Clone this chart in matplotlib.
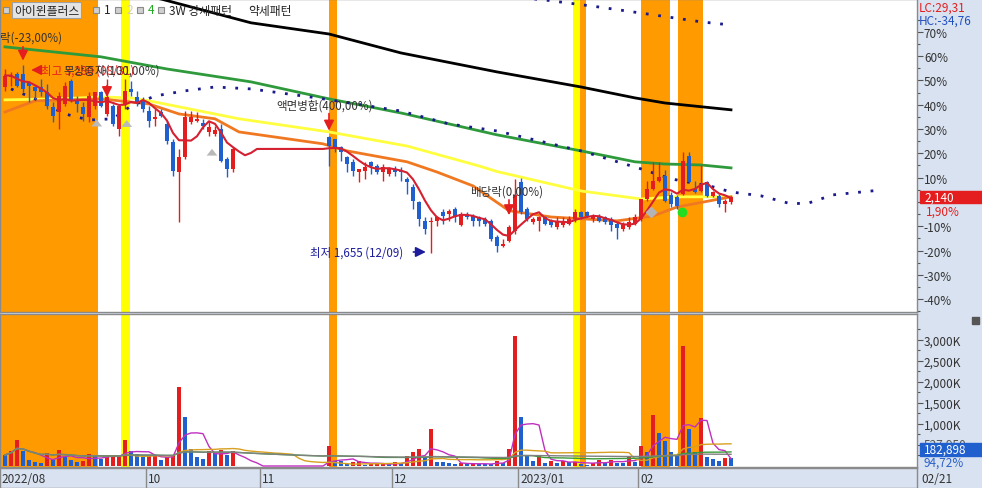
import numpy as np
import pandas as pd
import matplotlib
matplotlib.use("Agg")
import matplotlib.pyplot as plt
import matplotlib.transforms as mtrans
from matplotlib.patches import Rectangle

plt.rcParams['font.family'] = ['Noto Sans CJK KR', 'DejaVu Sans']

# 종목 / 기준가 (0% 기준)
stock_name = "아이윈플러스"
base_price = 2100

# 거래일 슬롯 (39~53 은 액면병합 거래정지 구간이라 캔들 없음)
slots = list(range(0, 39)) + list(range(54, 122))

# 기준가 대비 등락률(%) : 시가 / 고가 / 저가 / 종가
opens = [47.2, 51.3, 52.7, 52.7, 49.3, 47.2, 47.2, 45.1, 39.0, 36.9,
         40.3, 49.9, 41.7, 39.0, 34.8, 39.6, 45.1, 36.2, 39.6, 30.0,
         40.3, 46.5, 43.1, 41.7, 37.6, 34.2, 36.9, 32.1, 24.6, 12.2,
         18.4, 32.8, 33.5, 32.5, 28.7, 28.0, 30.0, 17.7, 13.6,
         26.6, 25.8, 22.5, 18.4, 16.3, 12.2, 12.9, 16.3, 14.9, 12.2,
         11.5, 13.6, 12.9, 9.5, 6.0, -0.1, -7.7, -8.4, -7.7, -4.3,
         -4.9, -2.9, -9.5, -4.9, -5.6, -6.3, -7.0, -7.7, -14.5, -18.0,
         -15.9, -12.0, 8.0, -3.0, -8.4, -7.7, -6.3, -7.7, -10.4, -9.7,
         -9.1, -7.0, -4.3, -4.3, -7.0, -5.6, -6.3, -7.0, -9.1, -11.1,
         -10.4, -9.1, -7.0, 1.2, 5.3, 8.8, 10.5, 3.0, 2.0, 3.3,
         18.9, 5.3, 4.5, 8.2, 2.5, 2.5, -0.8, 0.0]
highs = [54.7, 53.4, 53.4, 56.19, 49.9, 47.9, 50.6, 48.6, 41.0, 45.1,
         49.3, 50.6, 43.7, 41.0, 45.1, 45.1, 45.8, 50.6, 40.3, 40.3,
         50.6, 49.9, 45.8, 43.1, 39.6, 38.3, 38.3, 33.5, 25.9, 21.8,
         37.6, 37.6, 36.9, 34.2, 33.5, 31.4, 32.1, 18.4, 22.5,
         27.0, 26.0, 23.2, 19.0, 17.7, 13.6, 16.3, 17.0, 15.6, 15.6,
         14.3, 14.9, 14.3, 10.2, 7.4, 0.5, -6.3, -6.3, -5.6, -2.9,
         -2.9, -2.2, -4.3, -4.3, -4.9, -5.6, -6.3, -7.0, -13.5, -15.2,
         -9.7, 9.5, 10.0, -2.0, -6.3, -5.6, -5.6, -7.0, -6.3, -6.3,
         -5.6, -2.9, -3.6, -3.6, -4.9, -4.9, -5.6, -6.3, -8.4, -8.4,
         -6.3, -4.9, -6.3, 8.8, 16.3, 16.3, 13.0, 4.0, 3.0, 20.7,
         20.6, 8.5, 15.0, 8.8, 4.5, 3.3, 1.2, 2.5]
lows = [45.8, 47.9, 47.2, 45.1, 41.0, 42.4, 43.7, 38.3, 32.8, 30.0,
        39.6, 41.0, 36.9, 33.5, 32.8, 38.3, 39.0, 35.5, 31.4, 27.3,
        38.3, 43.7, 39.6, 36.9, 30.7, 31.4, 34.8, 23.9, 10.8, -8.4,
        17.7, 32.1, 32.8, 30.0, 27.3, 27.3, 16.3, 10.2, 12.2,
        14.9, 20.4, 17.0, 12.2, 10.8, 8.1, 9.5, 11.5, 11.5, 8.8,
        10.8, 10.8, 8.8, 3.3, -2.9, -9.8, -13.2, -21.19, -9.8, -9.1,
        -7.7, -8.4, -9.8, -7.0, -9.8, -9.8, -9.8, -16.0, -20.5, -18.7,
        -16.6, -13.0, -5.0, -8.0, -9.1, -11.8, -9.7, -10.4, -11.1, -10.4,
        -9.7, -8.4, -7.0, -6.3, -8.4, -8.4, -9.1, -11.8, -15.2, -11.8,
        -11.1, -9.7, -7.7, 0.5, 4.7, 8.0, 0.0, -2.0, -3.0, 3.0,
        8.0, 3.5, 4.0, 1.9, 1.9, -2.2, -4.0, -1.0]
closes = [52.0, 52.0, 47.9, 46.5, 47.9, 45.8, 45.1, 39.6, 35.5, 43.7,
          47.9, 41.7, 40.3, 36.2, 43.7, 45.1, 39.6, 43.1, 32.1, 39.6,
          45.8, 45.1, 41.0, 38.3, 33.5, 34.8, 35.5, 25.2, 12.9, 18.4,
          34.8, 34.8, 34.2, 31.4, 30.7, 29.5, 17.0, 13.6, 21.8,
          23.2, 22.5, 20.4, 15.6, 12.9, 13.6, 14.3, 14.9, 12.2, 14.3,
          13.6, 12.2, 12.2, 8.1, 0.5, -7.0, -11.2, -7.7, -6.3, -5.6,
          -3.6, -6.3, -4.9, -6.3, -7.7, -7.7, -9.1, -15.2, -18.0, -17.3,
          -10.4, 3.0, -4.0, -7.0, -7.0, -6.3, -9.1, -9.7, -8.4, -7.7,
          -7.0, -4.3, -6.3, -5.6, -5.6, -7.7, -8.4, -9.5, -10.8, -9.7,
          -8.4, -6.3, 1.2, 5.3, 8.8, 10.2, 0.5, -1.0, -1.5, 17.0,
          8.2, 4.1, 7.4, 2.5, 4.1, -0.8, 0.4, 1.9]

# 거래량 (천주)
volumes = [262, 365, 627, 365, 143, 87, 71, 310, 143, 389,
           222, 143, 103, 127, 278, 270, 167, 222, 230, 240,
           627, 349, 278, 206, 230, 240, 151, 206, 262, 1888,
           1167, 405, 222, 167, 365, 302, 389, 262, 365,
           468, 127, 111, 48, 87, 127, 35, 40, 45, 50,
           40, 90, 60, 246, 325, 405, 206, 881, 103, 87,
           60, 45, 70, 40, 60, 50, 45, 40, 127, 80,
           405, 3103, 1159, 246, 127, 246, 70, 127, 64, 111,
           87, 95, 48, 30, 75, 150, 75, 150, 75, 65,
           246, 103, 484, 341, 1214, 786, 595, 325, 250, 2865,
           881, 325, 1135, 206, 160, 127, 193.093, 182.898]

# 이동평균선 (화면에서 읽은 값: 슬롯, %)
ma_black_x = [20, 26, 41, 54, 66, 82, 96, 105, 110, 121]
ma_black_y = [84.4, 83.5, 73.7, 69.1, 61.3, 53.5, 47.3, 42.8, 40.7, 37.9]
ma_green_x = [0, 16, 27, 41, 54, 66, 74, 82, 96, 105, 110, 116, 121]
ma_green_y = [63.8, 59.7, 54.7, 49.4, 42.4, 36.6, 32.1, 27.6, 21.0, 16.5, 15.6, 15.2, 14.0]
ma_yellow_x = [0, 9, 16, 21, 24, 39, 54, 67, 79, 82, 96, 106, 112, 121]
ma_yellow_y = [42.0, 42.4, 43.2, 42.8, 41.6, 34.2, 28.8, 23.0, 14.8, 12.5, 4.5, 1.2, 2.1, 2.1]
ma_orange_x = [0, 5, 16, 24, 29, 35, 39, 53, 57, 67, 72, 78, 84, 91, 102, 108, 112, 121]
ma_orange_y = [37.0, 41.6, 42.4, 40.3, 36.2, 34.2, 28.8, 23.9, 21.0, 16.5, 12.3, 6.6,
               -3.6, -6.2, -7.8, -5.8, -2.1, 2.1]
span_low_x = [1, 5, 10, 14, 18, 21, 25, 30, 35, 41, 52, 66, 74, 82, 96, 106, 111,
              118, 121, 126, 131, 134, 138, 146]
span_low_y = [46.5, 42.4, 36.2, 33.7, 34.2, 39.5, 43.6, 45.7, 47.3, 46.5, 42.8, 37.4,
              32.1, 29.2, 21.0, 13.6, 9.5, 6.2, 4.1, 2.5, -0.8, -0.4, 2.9, 4.9]
span_high_x = [86, 90, 99, 108, 116, 121]
span_high_y = [84.0, 83.1, 80.2, 77.0, 74.1, 72.8]

# 신호 구간 (슬롯 범위)
orange_spans = [(-0.83, 15.5), (54.0, 55.3), (95.8, 96.8), (106.0, 110.8), (112.2, 116.3)]
yellow_spans = [(19.3, 20.8), (94.7, 95.8)]

# 월 구분
month_pos = [23.5, 42.5, 64.5, 85.5, 105.5]
month_labels = ["10", "11", "12", "2023/01", "02"]

RED = '#e41e1e'
BLUE = '#1f5fce'
AXBG = '#d9e2f0'
W, H = 982, 489


def box(x0, y0, x1, y1):
    return [x0 / W, 1 - y1 / H, (x1 - x0) / W, (y1 - y0) / H]


fig = plt.figure(figsize=(9.82, 4.89), dpi=100)
fig.patch.set_facecolor(AXBG)
ax = fig.add_axes(box(0, 0, 917, 313))
axv = fig.add_axes(box(0, 315, 917, 468), sharex=ax)
axd = fig.add_axes(box(0, 469, 917, 489), sharex=ax)

for a in (ax, axv, axd):
    for s in a.spines.values():
        s.set_color('#8a8a8a')
        s.set_linewidth(1)
axd.set_facecolor(AXBG)

ax.set_xlim(-0.83, 152)
ax.set_ylim(-45.3, 83.5)
axv.set_ylim(-24, 3619)
axd.set_ylim(0, 1)

# 신호 구간 음영
for a in (ax, axv):
    for s0, s1 in orange_spans:
        a.axvspan(s0, s1, color='#ff9b00', lw=0, zorder=0)
    for s0, s1 in yellow_spans:
        a.axvspan(s0, s1, color='#ffff00', lw=0, zorder=0)

# 가격 시리즈 (거래정지일은 직전 종가 유지)
full = pd.Series(np.nan, index=range(122))
full[slots] = closes
ma5 = full.ffill().rolling(5, min_periods=1).mean()

ax.plot(ma_black_x, ma_black_y, color='black', lw=2, zorder=3)
ax.plot(ma_green_x, ma_green_y, color='#2e9a3c', lw=2, zorder=3)
ax.plot(ma_yellow_x, ma_yellow_y, color='#ffff40', lw=2, zorder=3)
ax.plot(ma_orange_x, ma_orange_y, color='#f07820', lw=2, zorder=3)
ax.plot(span_low_x, span_low_y, color='#1a1a8c', lw=2, ls=(0, (1, 3.5)), zorder=3)
ax.plot(span_high_x, span_high_y, color='#1a1a8c', lw=2, ls=(0, (1, 3.5)), zorder=3)

# 캔들
idx = np.array(slots)
o = np.array(opens); h = np.array(highs); l = np.array(lows); c = np.array(closes)
col = np.where(c >= o, RED, BLUE)
ax.vlines(idx, l, h, colors=col, lw=1, zorder=4)
ax.bar(idx, np.maximum(np.abs(c - o), 0.4), bottom=np.minimum(o, c), width=0.72,
       color=col, lw=0, zorder=5)
ax.plot(ma5.index, ma5.values, color='#d42030', lw=1.5, zorder=6)

# 이벤트 표시
red_arrow = dict(arrowstyle='-|>,head_width=0.3,head_length=0.6', color=RED, lw=1.2)
ax.annotate('', xy=(3, 57.0), xytext=(3, 65.0), arrowprops=red_arrow, zorder=7)
ax.annotate('', xy=(17, 42.0), xytext=(17, 49.0), arrowprops=red_arrow, zorder=7)
ax.annotate('', xy=(54, 28.2), xytext=(54, 37.5), arrowprops=red_arrow, zorder=7)
ax.annotate('', xy=(84, -6.6), xytext=(84, 2.0), arrowprops=red_arrow, zorder=7)
ax.annotate('', xy=(3.9, 54.3), xytext=(5.9, 54.3), arrowprops=red_arrow, zorder=7)
ax.annotate('', xy=(70.6, -20.6), xytext=(67.6, -20.6),
            arrowprops=dict(arrowstyle='-|>,head_width=0.3,head_length=0.6',
                            color='#1c1c9c', lw=1.2), zorder=7)

high_price = round(base_price * (1 + max(highs) / 100))
low_price = round(base_price * (1 + min(lows) / 100))
ax.text(-0.83, 67.9, "락(-23,00%)", fontsize=8.3, color='#333333', va='center', zorder=8)
ax.text(6.0, 54.3, f"최고 {high_price:,} (08/31)",
        fontsize=8.3, color=RED, va='center', zorder=8)
ax.text(9.7, 54.3, "무상증자(100,00%)", fontsize=8.3, color='#333333', va='center', zorder=8)
ax.text(45.3, 39.9, "액면병합(400,00%)", fontsize=8.3, color='#333333', va='center', zorder=8)
ax.text(77.5, 4.5, "배당락(0,00%)", fontsize=8.3, color='#333333', va='center', zorder=8)
ax.text(50.8, -20.6, f"최저 {low_price:,} (12/09)", fontsize=8.3, color='#1c1c9c',
        va='center', zorder=8)

gray_arrow = dict(arrowstyle='simple,head_width=1.1,head_length=0.7,tail_width=0.5',
                  color='#b9b9b9', lw=0, mutation_scale=7)
for s, yb, yt in [(15.3, 31.0, 35.0), (20.3, 30.8, 34.8), (34.5, 19.0, 23.0)]:
    ax.annotate('', xy=(s, yt), xytext=(s, yb), arrowprops=gray_arrow, zorder=7)
ax.plot([107.7], [-4.1], marker='D', ms=5, color='#b4b4b4', zorder=7)
ax.plot([112.8], [-4.1], marker='o', ms=6, color='#22dd22', zorder=7)

# 가격축 (0% 눈금 글자는 현재가 상자에 가려짐)
ax.yaxis.tick_right()
ax.set_yticks(range(-40, 71, 10))
ax.set_yticklabels([f"{t}%" if t != 0 else "" for t in range(-40, 71, 10)])
ax.set_yticks(range(-45, 80, 10), minor=True)
ax.tick_params(axis='y', which='major', direction='out', length=4, width=0.8,
               color='#555555', labelsize=8.5, labelcolor='#333333', pad=1)
ax.tick_params(axis='y', which='minor', direction='out', length=2, width=0.8, color='#555555')
ax.tick_params(axis='x', bottom=False, labelbottom=False)

# 거래량
vol_s = pd.Series(0.0, index=range(122))
vol_s[slots] = volumes
v = np.array(volumes)
vcol = [BLUE] + [RED if v[i] >= v[i - 1] else BLUE for i in range(1, len(v))]
axv.bar(idx, v, width=0.72, color=vcol, lw=0, zorder=3)
for win, colr in [(5, '#c030c0'), (20, '#d8a020'), (60, '#3a9a3a'), (120, '#808080')]:
    m = vol_s.rolling(win, min_periods=1).mean()
    axv.plot(m.index, m.values, color=colr, lw=1, zorder=4)
ma20_last = vol_s.rolling(20, min_periods=1).mean().iloc[-1]

axv.yaxis.tick_right()
axv.set_yticks([1000, 1500, 2000, 2500, 3000])
axv.set_yticklabels(["1,000K", "1,500K", "2,000K", "2,500K", "3,000K"])
axv.set_yticks(np.arange(250, 3500, 250), minor=True)
axv.tick_params(axis='y', which='major', direction='out', length=4, width=0.8,
                color='#555555', labelsize=8.5, labelcolor='#333333', pad=1)
axv.tick_params(axis='y', which='minor', direction='out', length=2, width=0.8, color='#555555')
axv.tick_params(axis='x', bottom=False, labelbottom=False)

# 날짜 영역
axd.set_yticks([])
axd.tick_params(axis='x', bottom=False, labelbottom=False)
axd.text(-0.5, 0.45, "2022/08", fontsize=8.5, color='#333333', va='center')
for p, lab in zip(month_pos, month_labels):
    axd.axvline(p, color='#8a8a8a', lw=1)
    axd.text(p + 0.35, 0.45, lab, fontsize=8.5, color='#333333', va='center')
fig.text(921 / W, 1 - 480 / H, "02/21", fontsize=8.5, color='#333333', va='center')

# 오른쪽 정보
last_pct = closes[-1]
last_price = round(base_price * (1 + last_pct / 100))
lc = (last_price / low_price - 1) * 100
hc = (last_price / high_price - 1) * 100
fig.text(919 / W, 1 - 8 / H, f"LC:{lc:.2f}".replace('.', ','), fontsize=8.5,
         color=RED, va='center')
fig.text(919 / W, 1 - 21 / H, f"HC:{hc:.2f}".replace('.', ','), fontsize=8.5,
         color='#2050c0', va='center')

tr = mtrans.blended_transform_factory(ax.transAxes, ax.transData)
ax.add_patch(Rectangle((1.003, last_pct - 2.5), 62 / 917, 5.0, transform=tr,
                       color=RED, clip_on=False, zorder=9))
ax.text(1.008, last_pct, f"{last_price:,}", transform=tr, fontsize=8.5,
        color='white', va='center', zorder=10, clip_on=False)
ax.text(1.01, last_pct - 5.5, f"{last_pct:.2f}%".replace('.', ','), transform=tr,
        fontsize=8.5, color=RED, va='center', clip_on=False)

fig.text(924 / W, 1 - 445 / H, f"{ma20_last * 1000:,.0f}", fontsize=8.5,
         color='#555555', va='center')
fig.patches.append(Rectangle((920 / W, 1 - 457 / H), 62 / W, 13 / H,
                             transform=fig.transFigure, color=BLUE, zorder=5))
fig.text(924 / W, 1 - 450.5 / H, f"{volumes[-1] * 1000:,.0f}", fontsize=8.5,
         color='white', va='center', zorder=6)
fig.text(924 / W, 1 - 463.5 / H, f"{volumes[-1] / volumes[-2] * 100:.2f}%".replace('.', ','),
         fontsize=8.5, color='#2a60c8', va='center', zorder=6)
fig.patches.append(Rectangle((972 / W, 1 - 325 / H), 7 / W, 7 / H,
                             transform=fig.transFigure, color='#555555'))


# 상단 범례
def sq(x):
    fig.patches.append(Rectangle((x / W, 1 - 14 / H), 6 / W, 6 / H, transform=fig.transFigure,
                                 facecolor='#d0d0d0', edgecolor='#8a8a8a', lw=0.8))


sq(3)
fig.text(14 / W, 1 - 11 / H, stock_name, fontsize=8.5, color='#222222', va='center',
         bbox=dict(facecolor='#e4e4e4', edgecolor='#a0a0a0', pad=1.2, lw=0.8))
for x, t, cc in [(93, "1", '#222222'), (115, "2", '#d8d0a0'), (137, "4", '#22aa22')]:
    sq(x)
    fig.text((x + 11) / W, 1 - 11 / H, t, fontsize=8.5, color=cc, va='center')
sq(158)
fig.text(169 / W, 1 - 11 / H, "3W 강세패턴", fontsize=8.5, color='#222222', va='center')
fig.text(248 / W, 1 - 11 / H, "약세패턴", fontsize=8.5, color='#222222', va='center')

fig.savefig("out.png", dpi=100, facecolor=fig.get_facecolor())
